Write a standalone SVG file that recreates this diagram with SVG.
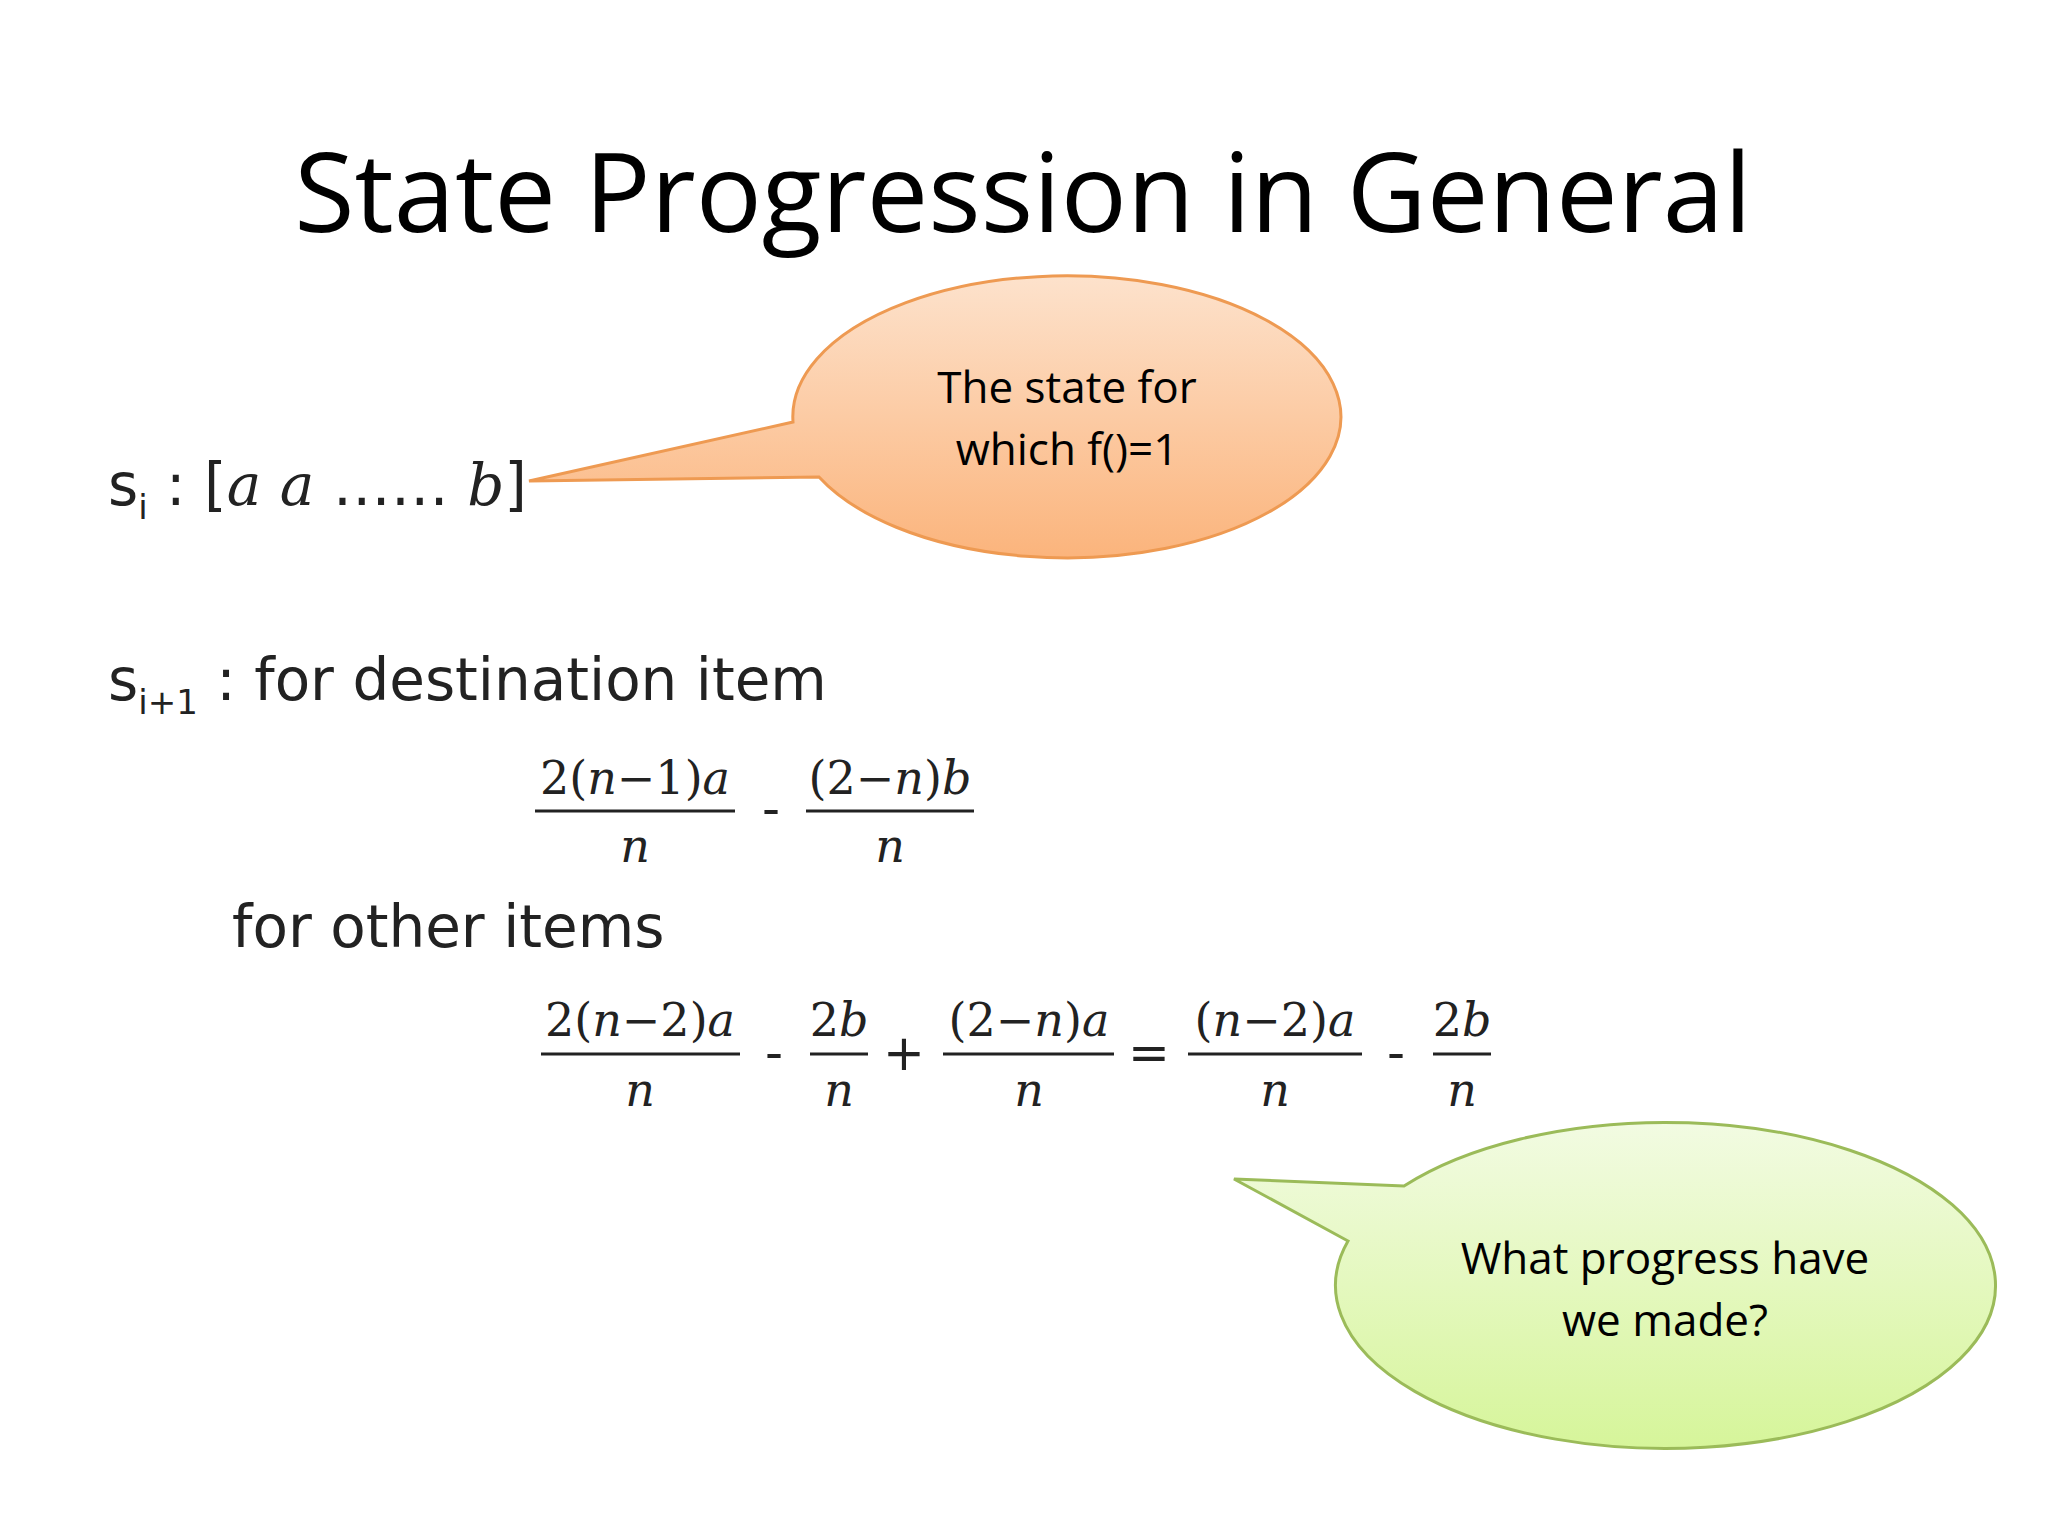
<svg xmlns="http://www.w3.org/2000/svg" width="2048" height="1536" viewBox="0 0 2048 1536">
<defs>
<linearGradient id="og" x1="0" y1="0" x2="0" y2="1"><stop offset="0" stop-color="#fde2cc"/><stop offset="1" stop-color="#fbb47c"/></linearGradient>
<linearGradient id="gg" x1="0" y1="0" x2="0" y2="1"><stop offset="0" stop-color="#f2fbe2"/><stop offset="1" stop-color="#d6f59a"/></linearGradient>
</defs>
<style>
.t{font-family:"Open Sans","Liberation Sans",sans-serif;fill:#000}
.c{font-family:"Open Sans","Liberation Sans",sans-serif;font-size:44px;text-anchor:middle}
.h{font-family:"DejaVu Sans",sans-serif;font-size:58px;fill:#222}
.m{font-family:"DejaVu Serif","Liberation Serif",serif;font-size:46px;text-anchor:middle;fill:#222}
.op{font-family:"DejaVu Sans",sans-serif;font-size:50px;text-anchor:middle;fill:#222}
.fl{stroke:#222;stroke-width:3}
</style>
<rect width="2048" height="1536" fill="#fff"/>
<text class="t" x="1023" y="232" font-size="110" text-anchor="middle">State Progression in General</text>
<g id="callout1">
<path d="M529,481 L793,422 A274,141 0 1 1 819,477 Z" fill="url(#og)" stroke="#ee9a52" stroke-width="3"/>
<text class="c" x="1067" y="403">The state for</text>
<text class="c" x="1067" y="465">which f()=1</text>
</g>
<g id="callout2">
<path d="M1234,1179 L1404,1186 A330,163 0 1 1 1348,1241 Z" fill="url(#gg)" stroke="#9bbb59" stroke-width="3"/>
<text class="c" x="1665" y="1274">What progress have</text>
<text class="c" x="1665" y="1336">we made?</text>
</g>
<g id="si">
<text class="h" x="108" y="505">s<tspan font-size="34" dy="14">i</tspan><tspan dy="-14"> : [</tspan><tspan font-family="DejaVu Serif,serif" font-style="italic">a a</tspan> …… <tspan font-family="DejaVu Serif,serif" font-style="italic">b</tspan>]</text>
</g>
<g id="si1">
<text class="h" x="108" y="700">s<tspan font-size="34" dy="14">i+1</tspan><tspan dy="-14"> : for destination item</tspan></text>
<text class="m" x="635" y="794">2(<tspan font-style="italic">n</tspan>−1)<tspan font-style="italic">a</tspan></text>
<line class="fl" x1="535" y1="811" x2="735" y2="811"/>
<text class="m" x="635" y="862" font-style="italic">n</text>
<text class="op" x="771" y="826">-</text>
<text class="m" x="890" y="794">(2−<tspan font-style="italic">n</tspan>)<tspan font-style="italic">b</tspan></text>
<line class="fl" x1="806" y1="811" x2="974" y2="811"/>
<text class="m" x="890" y="862" font-style="italic">n</text>
</g>
<g id="other">
<text class="h" x="232" y="947">for other items</text>
<text class="m" x="640" y="1036">2(<tspan font-style="italic">n</tspan>−2)<tspan font-style="italic">a</tspan></text>
<line class="fl" x1="541" y1="1054" x2="740" y2="1054"/>
<text class="m" x="640" y="1106" font-style="italic">n</text>
<text class="op" x="774" y="1070">-</text>
<text class="m" x="839" y="1036">2<tspan font-style="italic">b</tspan></text>
<line class="fl" x1="810" y1="1054" x2="868" y2="1054"/>
<text class="m" x="839" y="1106" font-style="italic">n</text>
<text class="op" x="904" y="1070">+</text>
<text class="m" x="1029" y="1036">(2−<tspan font-style="italic">n</tspan>)<tspan font-style="italic">a</tspan></text>
<line class="fl" x1="943" y1="1054" x2="1114" y2="1054"/>
<text class="m" x="1029" y="1106" font-style="italic">n</text>
<text class="op" x="1149" y="1070">=</text>
<text class="m" x="1275" y="1036">(<tspan font-style="italic">n</tspan>−2)<tspan font-style="italic">a</tspan></text>
<line class="fl" x1="1188" y1="1054" x2="1362" y2="1054"/>
<text class="m" x="1275" y="1106" font-style="italic">n</text>
<text class="op" x="1396" y="1070">-</text>
<text class="m" x="1462" y="1036">2<tspan font-style="italic">b</tspan></text>
<line class="fl" x1="1433" y1="1054" x2="1491" y2="1054"/>
<text class="m" x="1462" y="1106" font-style="italic">n</text>
</g>
</svg>
